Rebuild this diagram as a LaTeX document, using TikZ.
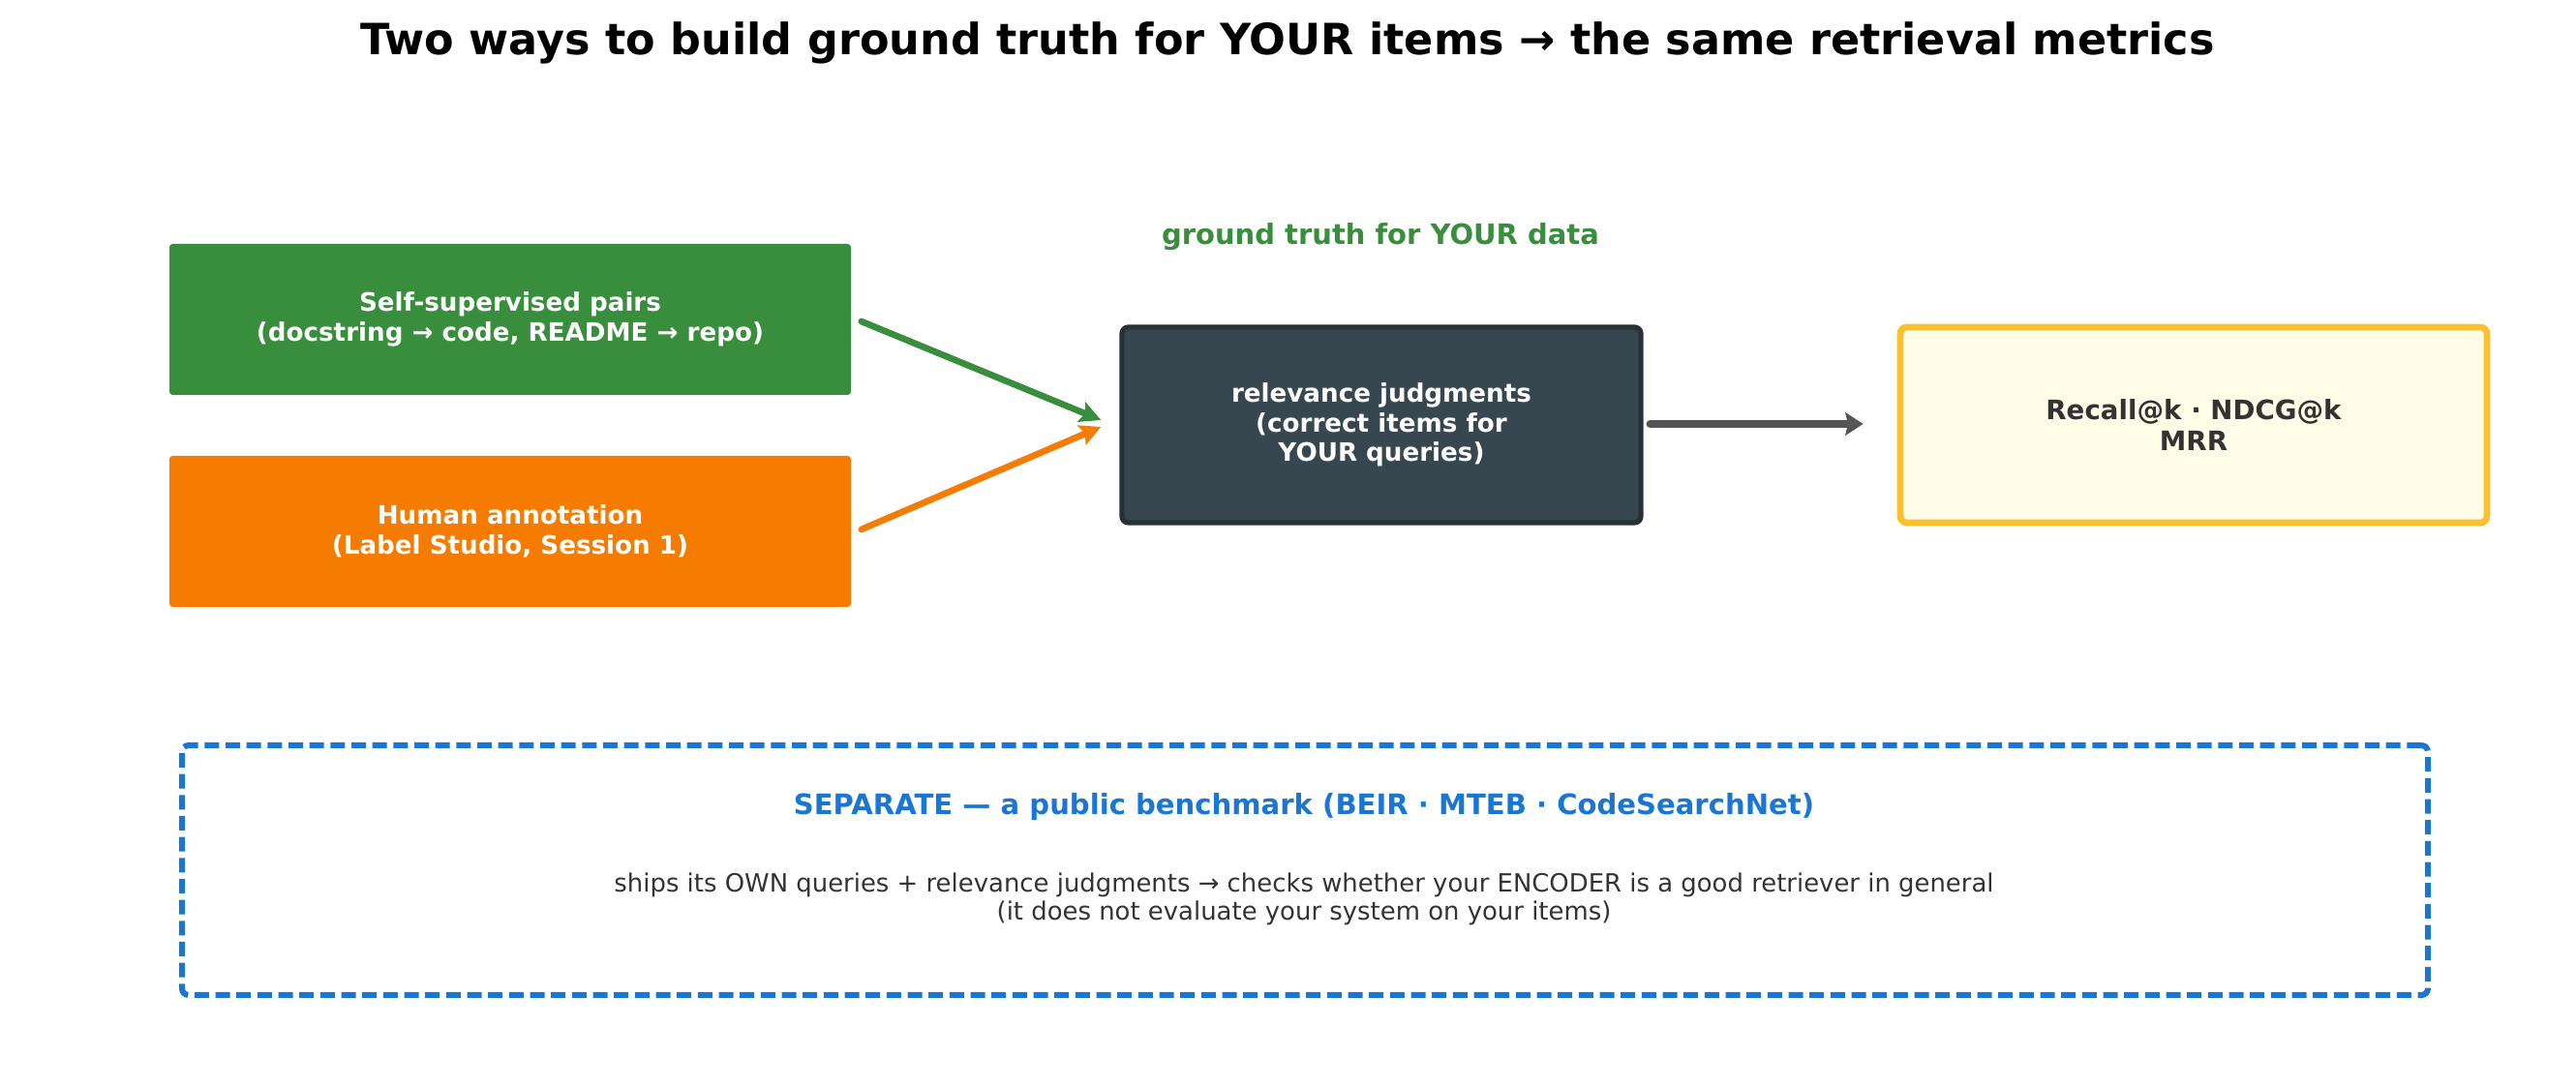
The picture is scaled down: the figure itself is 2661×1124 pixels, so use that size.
\documentclass[tikz,border=0pt]{standalone}
\usepackage{fontspec}
\setmainfont{DejaVu Sans}
\usetikzlibrary{arrows.meta}
\definecolor{cgreen}{HTML}{388E3C}
\definecolor{corange}{HTML}{F57C00}
\definecolor{cdark}{HTML}{37474F}
\definecolor{cdarkb}{HTML}{263238}
\definecolor{cyelf}{HTML}{FFFDE7}
\definecolor{cyelb}{HTML}{FBC02D}
\definecolor{cblue}{HTML}{1976D2}
\definecolor{cgray}{HTML}{555555}
\definecolor{ctext}{HTML}{333333}
\tikzset{
  srcbox/.style={inner sep=0pt, rounded corners=1pt, minimum width=211.2pt, minimum height=46.8pt, align=center, text=white, font=\bfseries\fontsize{7.85}{9.2}\selectfont},
  midbox/.style={inner sep=0pt, rounded corners=2pt, minimum width=160.8pt, minimum height=60.6pt, align=center, fill=cdark, draw=cdarkb, line width=1.6pt, text=white, font=\bfseries\fontsize{7.85}{9.2}\selectfont},
  metbox/.style={inner sep=0pt, rounded corners=2pt, minimum width=181.8pt, minimum height=60.6pt, align=center, fill=cyelf, draw=cyelb, line width=2pt, text=ctext, font=\bfseries\fontsize{8.3}{9.6}\selectfont},
  sepbox/.style={inner sep=0pt, rounded corners=2pt, minimum width=696pt, minimum height=77.4pt, draw=cblue, line width=1.8pt, dash pattern=on 4.5pt off 2pt},
  arr/.style={line width=2pt, line cap=round, -{Stealth[length=6.5pt,width=6.5pt,inset=1.2pt]}},
  garr/.style={line width=2.5pt, line cap=round, -{Stealth[length=5.5pt,width=7pt,inset=0.8pt]}}
}
\begin{document}
\begin{tikzpicture}[x=0.3pt,y=-0.3pt]
\useasboundingbox (0,0) rectangle (2661,1124);
\node[font=\bfseries\fontsize{13.35}{16}\selectfont] (title) at (1330,44) {Two ways to build ground truth for YOUR items → the same retrieval metrics};
\node[srcbox, fill=cgreen] (g) at (527,330) {Self-supervised pairs\\(docstring → code, README → repo)};
\node[srcbox, fill=corange] (o) at (527,549) {Human annotation\\(Label Studio, Session 1)};
\node[midbox] (d) at (1427,439) {relevance judgments\\(correct items for\\YOUR queries)};
\node[metbox] (m) at (2266,439) {Recall@k · NDCG@k\\MRR};
\node[text=cgreen, font=\bfseries\fontsize{8.7}{10}\selectfont] (gt) at (1426,245) {ground truth for YOUR data};
\node[sepbox] (s) at (1348,899) {};
\node[text=cblue, font=\bfseries\fontsize{8.73}{10}\selectfont] (sept) at (1347,833) {SEPARATE — a public benchmark (BEIR · MTEB · CodeSearchNet)};
\node[text=ctext, align=center, font=\fontsize{7.77}{8.9}\selectfont] (ships) at (1347,929) {ships its OWN queries + relevance judgments → checks whether your ENCODER is a good retriever in general\\(it does not evaluate your system on your items)};
\draw[arr, cgreen] ([xshift=3pt,yshift=-0.6pt]g.east) -- ([xshift=-5.7pt,yshift=1.5pt]d.west);
\draw[arr, corange] ([xshift=3pt,yshift=0.6pt]o.east) -- ([xshift=-5.7pt,yshift=-0.6pt]d.west);
\draw[garr, cgray] ([xshift=2.1pt,yshift=0.3pt]d.east) -- ([xshift=-10.5pt,yshift=0.3pt]m.west);
\end{tikzpicture}
\end{document}
